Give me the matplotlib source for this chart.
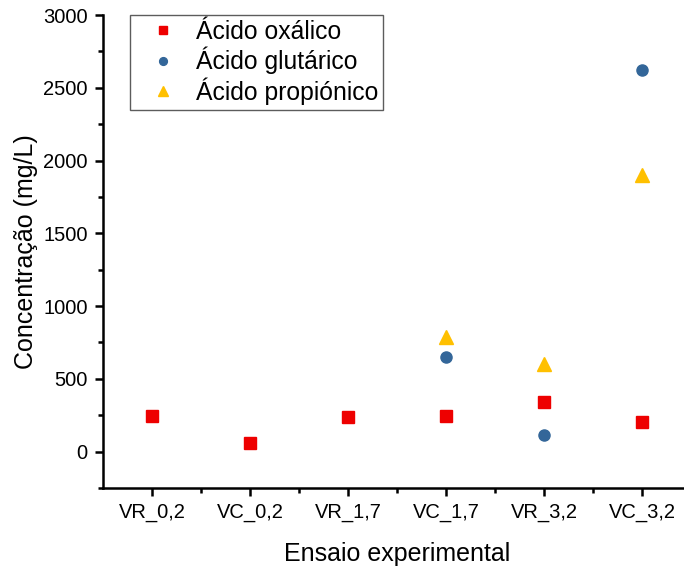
import matplotlib
matplotlib.use("Agg")
import matplotlib.pyplot as plt
from matplotlib.ticker import MultipleLocator, FixedLocator

plt.rcParams['font.family'] = ['Liberation Sans', 'DejaVu Sans']

ensaios = ["VR_0,2", "VC_0,2", "VR_1,7", "VC_1,7", "VR_3,2", "VC_3,2"]
x_oxalico = [1, 2, 3, 4, 5, 6]
oxalico = [248, 62, 240, 248, 344, 206]
x_glutarico = [4, 5, 6]
glutarico = [653, 117, 2620]
x_propionico = [4, 5, 6]
propionico = [790, 605, 1898]

fig = plt.figure(figsize=(6.84, 5.69), dpi=100)
ax = fig.add_axes([0.1506, 0.1424, 0.8596, 0.8312])

ax.plot(x_oxalico, oxalico, ls="none", marker="s", ms=8, color="#EE0000",
        label="Ácido oxálico")
ax.plot(x_glutarico, glutarico, ls="none", marker="o", ms=8, color="#336699",
        label="Ácido glutárico")
ax.plot(x_propionico, propionico, ls="none", marker="^", ms=10, color="#FFC000",
        label="Ácido propiónico")

ax.set_xlim(0.5, 6.5)
ax.set_ylim(-250, 3000)
ax.set_xticks(x_oxalico)
ax.set_xticklabels(ensaios)
ax.xaxis.set_minor_locator(FixedLocator([1.5, 2.5, 3.5, 4.5, 5.5]))
ax.yaxis.set_major_locator(MultipleLocator(500))
ax.yaxis.set_minor_locator(MultipleLocator(250))

for s in ["top", "right"]:
    ax.spines[s].set_visible(False)
for s in ["left", "bottom"]:
    ax.spines[s].set_linewidth(1.8)
ax.tick_params(which="major", length=6, width=1.8, labelsize=14.5, pad=5)
ax.tick_params(which="minor", length=3.5, width=1.8)

ax.set_xlabel("Ensaio experimental", fontsize=18, labelpad=14)
ax.set_ylabel("Concentração (mg/L)", fontsize=18, labelpad=4)

leg = ax.legend(loc="upper left", bbox_to_anchor=(0.046, 1.0), fontsize=17.8,
                frameon=True, fancybox=False, edgecolor="#333333",
                handletextpad=0.15, borderpad=0.2, labelspacing=0.12,
                handlelength=2.3, markerscale=0.7, borderaxespad=0)
leg.get_frame().set_linewidth(1.0)

fig.savefig("out.png", dpi=100)
